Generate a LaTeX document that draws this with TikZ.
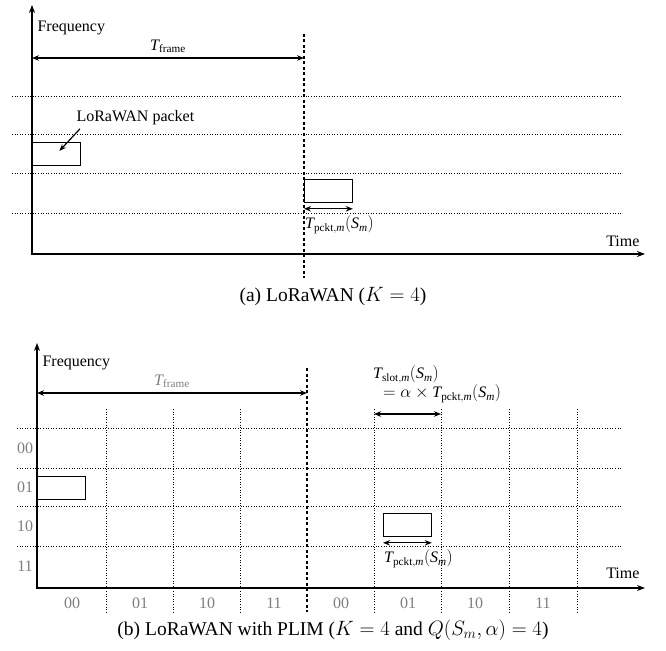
\documentclass[tikz,border=0pt]{standalone}
\usepackage{amsmath}
\usepackage{fontspec}
\setmainfont{Liberation Serif}
\usetikzlibrary{arrows.meta,positioning}
\definecolor{plGray}{RGB}{125,125,125}
\newcommand{\tframe}{$\textit{T}_{\text{frame}}$}
\newcommand{\tpcktm}{\textit{T}_{\text{pckt},\textit{m}}(\textit{S}_{\textit{m}})}
\newcommand{\tpckt}{$\tpcktm$}
\newcommand{\tslot}{$\textit{T}_{\text{slot},\textit{m}}(\textit{S}_{\textit{m}})$}

\begin{document}
\begin{tikzpicture}[
  x=1pt, y=-1pt,
  font=\fontsize{16}{18}\selectfont,
  axis/.style={{Stealth[length=8pt,width=6pt]}-{Stealth[length=8pt,width=6pt]}, line width=1.4pt},
  arr/.style={{Stealth[length=7pt,width=5.5pt]}-{Stealth[length=7pt,width=5.5pt]}, line width=1.2pt},
  ptr/.style={-{Stealth[length=7pt,width=5.5pt]}, line width=1.2pt},
  dotline/.style={dotted, line width=0.6pt},
  frameline/.style={line width=1.4pt, dash pattern=on 3pt off 2.5pt},
  pkt/.style={draw, line width=0.8pt, minimum width=48pt, minimum height=23pt, inner sep=0pt, anchor=north west},
  gl/.style={text=plGray},
  capt/.style={font=\fontsize{19.5}{22}\selectfont},
]
\useasboundingbox (0,0) rectangle (666,650);
% (a) plain LoRaWAN
\begin{scope}
  \coordinate (fA) at (32,5);
  \coordinate (tA) at (645,254);
  \foreach \y in {96,134,173,213} \draw[dotline] (12,\y) -- (622,\y);
  \draw[axis] (fA) |- (tA);
  \node[anchor=west] (freqA) at (34,28) {Frequency};
  \node[anchor=east] (timeA) at (643,241) {Time};
  \coordinate (fsA) at (304,34);
  \coordinate (feA) at (304,278);
  \draw[frameline] (fsA) -- (feA);
  \coordinate (tfA1) at (32,58);
  \coordinate (tfA2) at (304,58);
  \draw[arr] (tfA1) -- node[above=1pt] (tframeA) {\tframe} (tfA2);
  \node[pkt] (pktA1) at (32,142) {};
  \node[anchor=west] (pktlbl) at (73,118) {LoRaWAN packet};
  \draw[ptr] ([xshift=7pt]pktlbl.south west) -- ([shift={(3,-3)}]pktA1.center);
  \node[pkt] (pktA2) at (304,179) {};
  \draw[arr] ([yshift=-6pt]pktA2.south west) -- ([yshift=-6pt]pktA2.south east);
  \node[anchor=north west, inner sep=1pt] (tpcktA) at ([yshift=-12pt]pktA2.south west) {\tpckt};
  \node[capt] (capA) at (333,296) {(a) LoRaWAN ($K=4$)};
\end{scope}
% (b) LoRaWAN with PLIM
\begin{scope}
  \coordinate (fB) at (37,343);
  \coordinate (tB) at (645,588);
  \foreach \y in {428,468,506,546} \draw[dotline] (17,\y) -- (622,\y);
  \foreach \x in {106,173,240,374,441,509,577} \draw[dotline] (\x,409) -- (\x,612);
  \draw[axis] (fB) |- (tB);
  \node[anchor=west] (freqB) at (39,363) {Frequency};
  \node[anchor=east] (timeB) at (643,573) {Time};
  \coordinate (fsB) at (307,368);
  \coordinate (feB) at (307,612);
  \draw[frameline] (fsB) -- (feB);
  \coordinate (tfB1) at (37,393);
  \coordinate (tfB2) at (307,393);
  \draw[arr] (tfB1) -- node[above=1pt, gl] (tframeB) {\tframe} (tfB2);
  \foreach \t/\y in {00/448,01/487,10/526,11/566}
    \node[gl] (row\t) at (25,\y) {\t};
  \foreach \t/\x [count=\i] in {00/72,01/140,10/207,11/274,00/341,01/408,10/475,11/543}
    \node[gl] (slot\i) at (\x,603) {\t};
  \node[pkt] (pktB1) at (37,476) {};
  \node[pkt] (pktB2) at (383,513) {};
  \draw[arr] ([yshift=-6pt]pktB2.south west) -- ([yshift=-6pt]pktB2.south east);
  \node[anchor=north west, inner sep=1pt] (tpcktB) at ([yshift=-12pt]pktB2.south west) {\tpckt};
  \coordinate (ts1) at (374,414);
  \coordinate (ts2) at (441,414);
  \draw[arr] (ts1) -- (ts2);
  \node[anchor=south west, align=left, inner sep=1pt] (tslot) at (372,404) {\tslot\\[1pt]\hspace{10pt}$=\alpha\times\tpcktm$};
  \node[capt] (capB) at (333,630) {(b) LoRaWAN with PLIM ($K=4$ and $Q(S_m,\alpha)=4$)};
\end{scope}
\end{tikzpicture}
\end{document}
